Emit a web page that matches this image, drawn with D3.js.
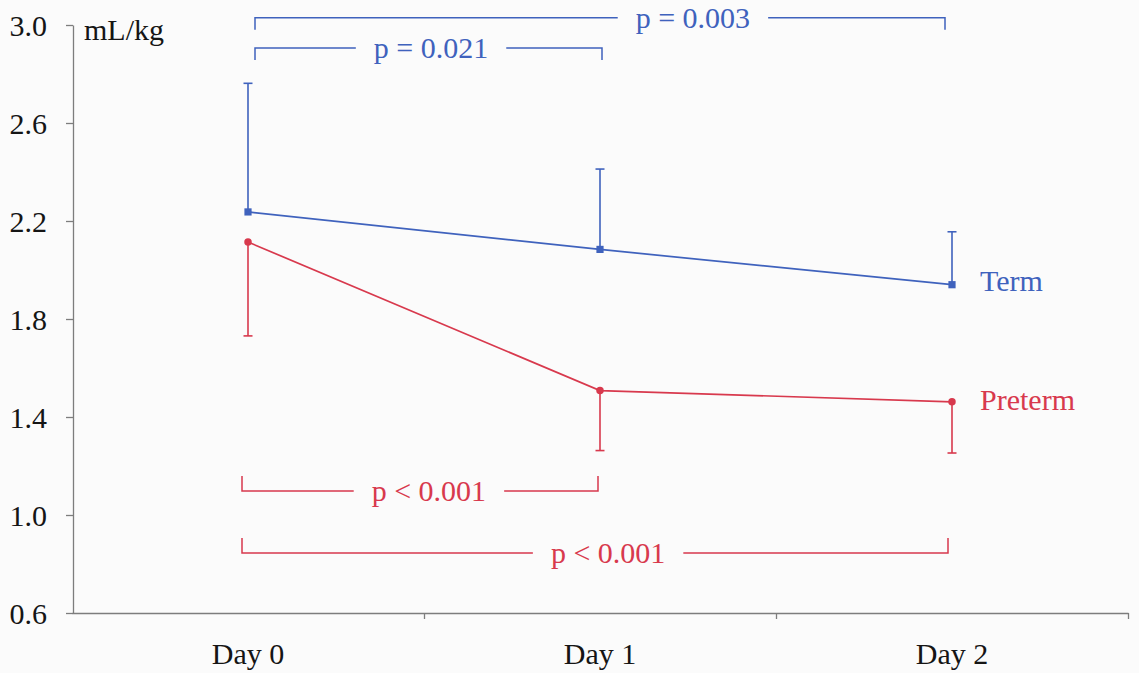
<!DOCTYPE html>
<html>
<head>
<meta charset="utf-8">
<script src="https://cdn.jsdelivr.net/npm/d3@7"></script>
<style>
  html, body { margin: 0; padding: 0; background: #fbfbfb; }
  svg { display: block; }
  svg text { font-family: "Liberation Serif", "DejaVu Serif", serif; }
</style>
</head>
<body>
<svg id="chart" width="1139" height="673"></svg>
<script>
// Study days on the x axis
const days = ["Day 0", "Day 1", "Day 2"];

// Mean volume (mL/kg) per group, with one-sided error bar ends
const termMean = [2.237, 2.084, 1.940];
const termUpper = [2.762, 2.412, 2.156];
const pretermMean = [2.114, 1.508, 1.462];
const pretermLower = [1.731, 1.263, 1.253];

// Y axis tick values
const yTicks = [0.6, 1.0, 1.4, 1.8, 2.2, 2.6, 3.0];

// Significance brackets: from/to day index, level on the value axis,
// label position (in day-index units) and the p value text
const bracketFrom = [0, 0, 0, 0];
const bracketTo = [2, 1, 1, 2];
const bracketLevel = [3.03, 2.906, 1.098, 0.845];
const bracketLabelAt = [1.264, 0.52, 0.514, 1.023];
const bracketLabel = ["p = 0.003", "p = 0.021", "p < 0.001", "p < 0.001"];
const bracketGroup = ["term", "term", "preterm", "preterm"];

const colors = { term: "#3f62bd", preterm: "#d8394d" };
const axisColor = "#7d7d7d";
const textColor = "#151515";
const serif = "'Liberation Serif', 'DejaVu Serif', serif";

const svg = d3.select("#chart");

const x = d3.scalePoint().domain(days).range([72, 1128]).padding(0.5);
const xi = d3.scaleLinear().domain([0, 2]).range([x(days[0]), x(days[2])]);
const y = d3.scaleLinear().domain([0.6, 3.0]).range([613, 25]);

// Y axis
const yAxis = svg.append("g")
  .attr("transform", "translate(73,0)")
  .call(d3.axisLeft(y).tickValues(yTicks).tickFormat(d3.format(".1f")).tickSize(7).tickSizeOuter(0))
  .attr("font-family", serif)
  .attr("font-size", 30);
yAxis.select(".domain").attr("stroke", axisColor).attr("stroke-width", 1.3);
yAxis.selectAll(".tick line").attr("stroke", axisColor).attr("stroke-width", 1.3);
yAxis.selectAll(".tick text")
  .attr("x", -26).attr("dy", "0.34em")
  .attr("fill", textColor)
  .style("font-family", serif)
  .style("font-size", "30px");

// X axis: line with ticks at the boundaries between days
const step = x.step();
const boundaries = days.map(d => x(d) + step / 2);
const xAxisScale = d3.scaleLinear().domain([72, 1128]).range([72, 1128]);
const xAxis = svg.append("g")
  .attr("transform", `translate(0,${y(0.6)})`)
  .call(d3.axisBottom(xAxisScale).tickValues(boundaries).tickFormat("").tickSize(6).tickSizeOuter(0));
xAxis.select(".domain").attr("stroke", axisColor).attr("stroke-width", 1.3);
xAxis.selectAll(".tick line").attr("stroke", axisColor).attr("stroke-width", 1.3);

// Day labels
svg.append("g").selectAll("text")
  .data(days)
  .join("text")
  .attr("x", d => x(d))
  .attr("y", 664)
  .attr("text-anchor", "middle")
  .attr("fill", textColor)
  .style("font-size", "30px")
  .text(d => d);

// Unit label
svg.append("text")
  .attr("x", 84).attr("y", 40)
  .attr("fill", textColor)
  .style("font-size", "30px")
  .text("mL/kg");

// Error bars, lines and markers for each group
function drawSeries(name, mean, ends) {
  const c = colors[name];
  const g = svg.append("g");
  const pts = days.map((d, i) => ({ d, m: mean[i], e: ends[i] }));
  g.selectAll("line.bar").data(pts).join("line")
    .attr("x1", p => x(p.d)).attr("x2", p => x(p.d))
    .attr("y1", p => y(p.m)).attr("y2", p => y(p.e))
    .attr("stroke", c).attr("stroke-width", 1.6);
  g.selectAll("line.cap").data(pts).join("line")
    .attr("x1", p => x(p.d) - 4.5).attr("x2", p => x(p.d) + 4.5)
    .attr("y1", p => y(p.e)).attr("y2", p => y(p.e))
    .attr("stroke", c).attr("stroke-width", 1.6);
  g.append("path")
    .datum(pts)
    .attr("fill", "none").attr("stroke", c).attr("stroke-width", 1.7)
    .attr("d", d3.line().x(p => x(p.d)).y(p => y(p.m)));
  const sym = name === "term" ? d3.symbolSquare : d3.symbolCircle;
  const size = name === "term" ? 52 : 44;
  g.selectAll("path.mark").data(pts).join("path")
    .attr("transform", p => `translate(${x(p.d)},${y(p.m)})`)
    .attr("d", d3.symbol().type(sym).size(size))
    .attr("fill", c);
}
drawSeries("term", termMean, termUpper);
drawSeries("preterm", pretermMean, pretermLower);

// Series labels
svg.append("text")
  .attr("x", x(days[2]) + 28).attr("y", y(termMean[2]) + 6)
  .attr("fill", colors.term).style("font-size", "30px").text("Term");
svg.append("text")
  .attr("x", x(days[2]) + 28).attr("y", y(pretermMean[2]) + 8)
  .attr("fill", colors.preterm).style("font-size", "30px").text("Preterm");

// Significance brackets
bracketLabel.forEach((label, i) => {
  const group = bracketGroup[i];
  const c = colors[group];
  const g = svg.append("g");
  const ly = y(bracketLevel[i]);
  const hook = group === "term" ? 12 : -15;
  const offset = group === "term" ? 7 : -6;
  const x0 = xi(bracketFrom[i]) + offset;
  const x1 = xi(bracketTo[i]) + (group === "term" ? (bracketTo[i] === 2 ? -7 : 2) : (bracketTo[i] === 2 ? -4 : -2));
  const cx = xi(bracketLabelAt[i]);
  const t = g.append("text")
    .attr("x", cx).attr("y", ly + 10)
    .attr("text-anchor", "middle")
    .attr("fill", c).style("font-size", "30px")
    .text(label);
  const w = t.node().getComputedTextLength();
  const gap = 18;
  g.append("path")
    .attr("fill", "none").attr("stroke", c).attr("stroke-width", 1.5)
    .attr("d", `M${x0},${ly + hook}V${ly}H${cx - w / 2 - gap}M${cx + w / 2 + gap},${ly}H${x1}V${ly + hook}`);
});
</script>
</body>
</html>
